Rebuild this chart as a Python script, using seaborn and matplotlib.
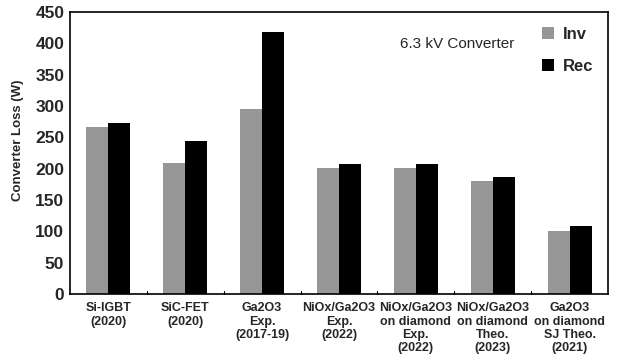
import pandas as pd
import matplotlib.pyplot as plt
import seaborn as sns

categories = ['Si-IGBT\n(2020)', 'SiC-FET\n(2020)', 'Ga2O3\nExp.\n(2017-19)',
              'NiOx/Ga2O3\nExp.\n(2022)', 'NiOx/Ga2O3\non diamond\nExp.\n(2022)',
              'NiOx/Ga2O3\non diamond\nTheo.\n(2023)', 'Ga2O3\non diamond\nSJ Theo.\n(2021)']
inv = [266, 209, 295, 201, 201, 180, 100]
rec = [273, 244, 418, 208, 208, 186, 108]

df = pd.DataFrame({'device': categories * 2,
                   'loss': inv + rec,
                   'type': ['Inv'] * len(inv) + ['Rec'] * len(rec)})

sns.set_style('white')
plt.rcParams['font.family'] = ['Liberation Sans', 'DejaVu Sans']

fig = plt.figure(figsize=(6.18, 3.61), dpi=100)
ax = fig.add_axes([0.113, 0.186, 0.871, 0.781])
sns.barplot(data=df, x='device', y='loss', hue='type', palette=['#969696', '#000000'],
            width=0.57, saturation=1, linewidth=0, ax=ax)

ax.set_ylim(0, 450)
ax.set_yticks(range(0, 451, 50))
ax.set_xlim(-0.5, len(categories) - 0.5)
ax.set_xticks(range(len(categories)))
ax.set_xticklabels(categories, fontweight='bold', fontsize=9, linespacing=1.15)
ax.tick_params(axis='x', length=0, pad=6)
ax.tick_params(axis='y', labelsize=12.5, length=0, pad=4)
for lbl in ax.get_yticklabels():
    lbl.set_fontweight('bold')
# small inward ticks between groups
for b in range(1, len(categories)):
    ax.plot([b - 0.5, b - 0.5], [0, 4], color='black', lw=0.8, clip_on=False)

ax.set_xlabel('')
ax.set_ylabel('Converter Loss (W)', fontweight='bold', fontsize=9.5)
ax.yaxis.set_label_coords(-0.085, 0.546)
for s in ax.spines.values():
    s.set_color('black')
    s.set_linewidth(1.2)

ax.text(0.72, 0.885, '6.3 kV Converter', transform=ax.transAxes, ha='center', va='center', fontsize=11)
leg = ax.legend(loc='upper right', frameon=False, prop={'weight': 'bold', 'size': 12},
                handlelength=0.75, handleheight=0.75, handletextpad=0.5, labelspacing=1.0,
                bbox_to_anchor=(1.0, 1.0))

fig.savefig('out.png', dpi=100)
